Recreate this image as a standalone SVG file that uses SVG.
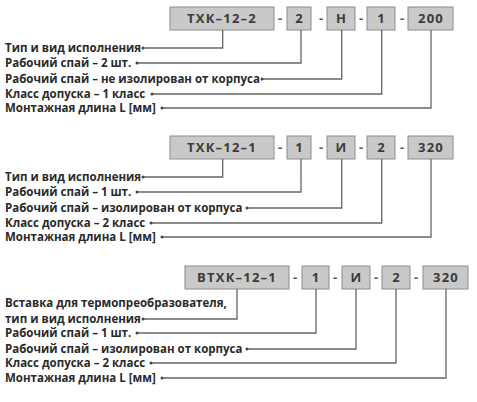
<svg xmlns="http://www.w3.org/2000/svg" width="477" height="402" viewBox="0 0 477 402">
<style>
.box{fill:#c9c9c9;stroke:#8c8c8c;stroke-width:1}
.bt{font-family:"Open Sans","DejaVu Sans",sans-serif;font-weight:bold;font-size:13px;fill:#3a3a3a;text-anchor:middle;letter-spacing:1.2px}
.dash{font-family:"Open Sans","DejaVu Sans",sans-serif;font-weight:bold;font-size:13px;fill:#555;text-anchor:middle}
.lb{font-family:"Open Sans","DejaVu Sans",sans-serif;font-weight:bold;font-size:11.5px;fill:#2a2a2a}
.ln{fill:none;stroke:#666;stroke-width:1.3}
.dot{fill:#444}
</style>
<rect width="477" height="402" fill="#fff"/>
<!-- Block 1 -->
<g id="b1-main"><rect class="box" x="170" y="7" width="104" height="23"/><text class="bt" x="222" y="23">ТХК–12–2</text></g>
<g id="b1-n"><rect class="box" x="287" y="7" width="24" height="23"/><text class="bt" x="299.5" y="23">2</text></g>
<g id="b1-v"><rect class="box" x="327" y="7" width="28" height="23"/><text class="bt" x="341.5" y="23">Н</text></g>
<g id="b1-k"><rect class="box" x="367" y="7" width="28" height="23"/><text class="bt" x="381.5" y="23">1</text></g>
<g id="b1-l"><rect class="box" x="408" y="7" width="45" height="23"/><text class="bt" x="431" y="23">200</text></g>
<g id="b1-dashes"><text class="dash" x="280" y="23">-</text><text class="dash" x="321" y="23">-</text><text class="dash" x="361" y="23">-</text><text class="dash" x="402" y="23">-</text></g>
<g id="b1-labels">
<text class="lb" x="5" y="52">Тип и вид исполнения</text>
<text class="lb" x="5" y="67">Рабочий спай – 2 шт.</text>
<text class="lb" x="5" y="83">Рабочий спай – не изолирован от корпуса</text>
<text class="lb" x="5" y="98">Класс допуска – 1 класс</text>
<text class="lb" x="5" y="112">Монтажная длина L [мм]</text>
</g>
<!-- Block 2 -->
<g id="b2-main"><rect class="box" x="170" y="136" width="104" height="23"/><text class="bt" x="222" y="152">ТХК–12–1</text></g>
<g id="b2-n"><rect class="box" x="287" y="136" width="24" height="23"/><text class="bt" x="299.5" y="152">1</text></g>
<g id="b2-v"><rect class="box" x="327" y="136" width="28" height="23"/><text class="bt" x="341.5" y="152">И</text></g>
<g id="b2-k"><rect class="box" x="367" y="136" width="28" height="23"/><text class="bt" x="381.5" y="152">2</text></g>
<g id="b2-l"><rect class="box" x="408" y="136" width="45" height="23"/><text class="bt" x="431" y="152">320</text></g>
<g id="b2-dashes"><text class="dash" x="280" y="152">-</text><text class="dash" x="321" y="152">-</text><text class="dash" x="361" y="152">-</text><text class="dash" x="402" y="152">-</text></g>
<g id="b2-labels">
<text class="lb" x="5" y="181">Тип и вид исполнения</text>
<text class="lb" x="5" y="196">Рабочий спай – 1 шт.</text>
<text class="lb" x="5" y="212">Рабочий спай – изолирован от корпуса</text>
<text class="lb" x="5" y="227">Класс допуска – 2 класс</text>
<text class="lb" x="5" y="241">Монтажная длина L [мм]</text>
</g>
<!-- Block 3 -->
<g id="b3-main"><rect class="box" x="185" y="266" width="104" height="23"/><text class="bt" x="237" y="282">ВТХК–12–1</text></g>
<g id="b3-n"><rect class="box" x="302" y="266" width="27" height="23"/><text class="bt" x="316" y="282">1</text></g>
<g id="b3-v"><rect class="box" x="342" y="266" width="28" height="23"/><text class="bt" x="356.5" y="282">И</text></g>
<g id="b3-k"><rect class="box" x="382" y="266" width="28" height="23"/><text class="bt" x="396.5" y="282">2</text></g>
<g id="b3-l"><rect class="box" x="423" y="266" width="45" height="23"/><text class="bt" x="446" y="282">320</text></g>
<g id="b3-dashes"><text class="dash" x="295" y="282">-</text><text class="dash" x="335" y="282">-</text><text class="dash" x="376" y="282">-</text><text class="dash" x="416" y="282">-</text></g>
<g id="b3-labels">
<text class="lb" x="5" y="307">Вставка для термопреобразователя,</text>
<text class="lb" x="5" y="323">тип и вид исполнения</text>
<text class="lb" x="5" y="337">Рабочий спай – 1 шт.</text>
<text class="lb" x="5" y="353">Рабочий спай – изолирован от корпуса</text>
<text class="lb" x="5" y="367">Класс допуска – 2 класс</text>
<text class="lb" x="5" y="382">Монтажная длина L [мм]</text>
</g>
<g id="connectors">
<path class="ln" d="M143 48H222.7V30M137 63H301V30M262 79H341.7V30M152 94H381.7V30M162 108H431V30"/>
<path class="ln" d="M143 177H222.7V159M137 192H301V159M247 208H341.7V159M151 223H381.7V159M162 237H431V159"/>
<path class="ln" d="M143 319H237V289M137 333H316V289M247 349H356V289M151 363H396V289M162 378H446V289"/>
<g class="dot">
<circle cx="143" cy="48" r="1.5"/><circle cx="137" cy="63" r="1.5"/><circle cx="262" cy="79" r="1.5"/><circle cx="152" cy="94" r="1.5"/><circle cx="162" cy="108" r="1.5"/>
<circle cx="143" cy="177" r="1.5"/><circle cx="137" cy="192" r="1.5"/><circle cx="247" cy="208" r="1.5"/><circle cx="151" cy="223" r="1.5"/><circle cx="162" cy="237" r="1.5"/>
<circle cx="143" cy="319" r="1.5"/><circle cx="137" cy="333" r="1.5"/><circle cx="247" cy="349" r="1.5"/><circle cx="151" cy="363" r="1.5"/><circle cx="162" cy="378" r="1.5"/>
</g>
</g>
</svg>
